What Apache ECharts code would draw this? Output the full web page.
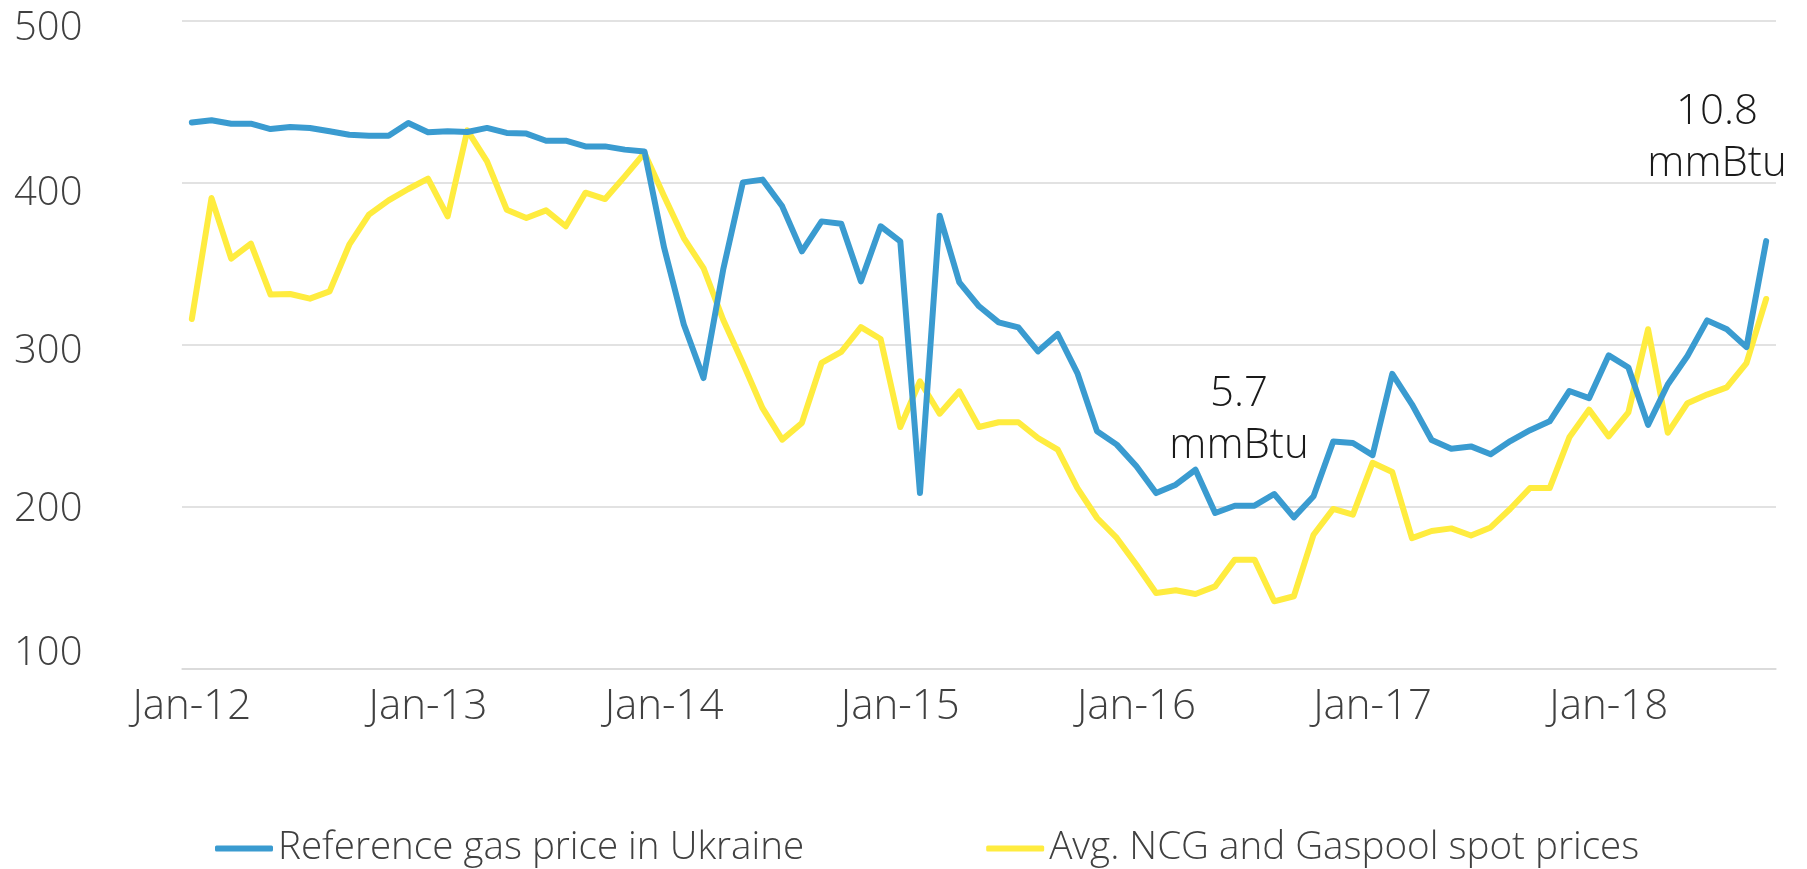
<!DOCTYPE html>
<html>
<head>
<meta charset="utf-8">
<script src="https://cdn.jsdelivr.net/npm/echarts@6/dist/echarts.min.js"></script>
<style>
html,body{margin:0;padding:0;background:#fff;}
#chart{width:1807px;height:869px;}
</style>
</head>
<body>
<div id="chart"></div>
<script>
const categories = [
 'Jan-12','Feb-12','Mar-12','Apr-12','May-12','Jun-12','Jul-12','Aug-12','Sep-12','Oct-12','Nov-12','Dec-12',
 'Jan-13','Feb-13','Mar-13','Apr-13','May-13','Jun-13','Jul-13','Aug-13','Sep-13','Oct-13','Nov-13','Dec-13',
 'Jan-14','Feb-14','Mar-14','Apr-14','May-14','Jun-14','Jul-14','Aug-14','Sep-14','Oct-14','Nov-14','Dec-14',
 'Jan-15','Feb-15','Mar-15','Apr-15','May-15','Jun-15','Jul-15','Aug-15','Sep-15','Oct-15','Nov-15','Dec-15',
 'Jan-16','Feb-16','Mar-16','Apr-16','May-16','Jun-16','Jul-16','Aug-16','Sep-16','Oct-16','Nov-16','Dec-16',
 'Jan-17','Feb-17','Mar-17','Apr-17','May-17','Jun-17','Jul-17','Aug-17','Sep-17','Oct-17','Nov-17','Dec-17',
 'Jan-18','Feb-18','Mar-18','Apr-18','May-18','Jun-18','Jul-18','Aug-18','Sep-18'
];
const ukraineRef = [
 437.4,438.7,436.6,436.6,433.3,434.6,434.0,431.9,429.8,429.2,429.2,437.0,
 431.3,431.9,431.5,434.0,430.9,430.5,426.1,426.1,422.6,422.6,420.6,419.5,
 360.0,312.6,279.6,346.5,400.4,402.1,385.6,357.8,376.3,374.9,339.3,373.3,
 364.0,208.6,379.8,338.7,323.9,314.0,310.9,296.1,306.8,282.7,246.7,238.5,
 225.1,208.6,213.8,223.0,196.3,200.8,200.8,208.0,193.6,206.6,240.5,239.5,
 232.0,282.2,263.4,241.4,235.9,237.4,232.6,240.7,247.4,252.9,271.6,267.2,
 293.6,286.1,250.7,275.6,293.2,315.2,309.7,298.7,364.1
];
const ncgGaspool = [
 316.1,390.7,353.3,362.6,331.1,331.5,328.6,333.1,361.9,380.5,389.3,396.3,
 402.7,379.4,432.5,413.4,383.5,378.4,383.1,373.3,394.0,390.1,404.1,418.5,
 391.8,366.0,347.5,315.6,288.9,261.0,241.6,251.9,288.9,295.7,311.0,303.7,
 249.4,277.6,257.6,271.4,249.4,252.3,252.3,242.6,235.4,211.7,193.2,180.9,
 164.4,146.9,148.6,146.3,151.0,167.5,167.5,141.8,144.9,182.9,198.8,195.3,
 227.3,221.6,180.8,185.2,186.8,182.4,187.4,198.9,211.7,211.7,243.0,260.1,
 243.6,258.4,309.7,245.8,264.1,269.4,273.8,288.8,328.4
];
const yTicks = {min: 100, max: 500, interval: 100};
const seriesNames = ['Reference gas price in Ukraine', 'Avg. NCG and Gaspool spot prices'];
const notes = [
 {text: '5.7\nmmBtu', x: 1239, y: 368},
 {text: '10.8\nmmBtu', x: 1717, y: 86}
];

const FONT = "'Open Sans', 'DejaVu Sans', sans-serif";
// small vertical nudges of the y tick labels, as in the original layout
const yLabelRich = {
  v500: {padding: [16, 0, 0, 0]},
  v400: {padding: [22, 0, 0, 0]},
  v300: {padding: [14, 0, 0, 0]},
  v200: {padding: [6, 0, 0, 0]},
  v100: {padding: [0, 0, 30, 0]}
};
const chart = echarts.init(document.getElementById('chart'), null, {renderer: 'canvas'});
chart.setOption({
  animation: false,
  backgroundColor: '#ffffff',
  grid: {left: 182, right: 31, top: 21, bottom: 200, containLabel: false},
  legend: {
    data: seriesNames,
    left: 210,
    top: 824,
    itemWidth: 58,
    itemHeight: 6,
    itemGap: 182,
    icon: 'roundRect',
    textStyle: {fontFamily: FONT, fontSize: 38.6, fontWeight: 300, color: '#404040'}
  },
  xAxis: {
    type: 'category',
    data: categories,
    boundaryGap: true,
    axisLine: {show: true, lineStyle: {color: '#d9d9d9', width: 1.5}},
    axisTick: {show: false},
    axisLabel: {interval: 11, margin: 17, fontFamily: FONT, fontSize: 42, fontWeight: 300, color: '#404040'},
    splitLine: {show: false}
  },
  yAxis: {
    type: 'value',
    min: yTicks.min, max: yTicks.max, interval: yTicks.interval,
    axisLine: {show: false},
    axisTick: {show: false},
    axisLabel: {
      align: 'left', margin: 168, fontFamily: FONT, fontSize: 40, fontWeight: 300, color: '#404040',
      formatter: v => '{v' + v + '|' + v + '}',
      rich: Object.fromEntries(Object.entries(yLabelRich).map(([k, s]) => [k, Object.assign({fontFamily: FONT, fontSize: 40, fontWeight: 300, color: '#404040'}, s)]))
    },
    splitLine: {lineStyle: {color: '#d9d9d9', width: 1.5}}
  },
  series: [
    {
      name: seriesNames[0], type: 'line', data: ukraineRef, symbol: 'none',
      lineStyle: {color: '#3a9bd0', width: 6, cap: 'round', join: 'round'},
      itemStyle: {color: '#3a9bd0'}, z: 3
    },
    {
      name: seriesNames[1], type: 'line', data: ncgGaspool, symbol: 'none',
      lineStyle: {color: '#ffec3f', width: 6, cap: 'round', join: 'round'},
      itemStyle: {color: '#ffec3f'}, z: 2
    }
  ],
  graphic: notes.map(n => ({
    type: 'text', x: n.x, y: n.y, z: 10,
    style: {text: n.text, x: 0, y: 0, align: 'center', verticalAlign: 'top',
      font: "300 42px 'Open Sans', 'DejaVu Sans', sans-serif", lineHeight: 52, fill: '#1a1a1a'}
  }))
});
</script>
</body>
</html>
